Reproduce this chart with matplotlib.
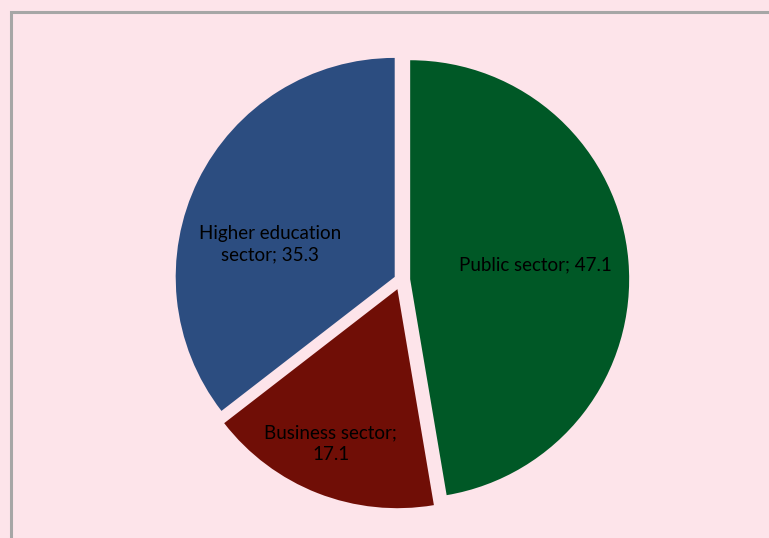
import matplotlib.pyplot as plt
from matplotlib.patches import Rectangle
import numpy as np

# data
sectors = ['Public sector', 'Business sector', 'Higher education\nsector']
shares = [47.1, 17.1, 35.3]
colors = ['#005826', '#700e06', '#2c4d80']
explode = [0.042, 0.045, 0.032]

W, H = 769, 538
fig = plt.figure(figsize=(W / 100, H / 100), dpi=100)
fig.patch.set_facecolor('#fde4ea')

# grey frame, cut by right/bottom edges
fig.patches.append(Rectangle((10.5 / W, -0.1), 1.2, 1 - 11.5 / H + 0.1,
                             transform=fig.transFigure, fill=False,
                             edgecolor='#a6a6a6', linewidth=2.2))

ax = fig.add_axes([0, 0, 1, 1])
ax.set_facecolor('none')
cx, cy, r = 401, H - 280, 219
# pie's explode is in data units, so scale by the radius
wedges, _ = ax.pie(shares, colors=colors, explode=[e * r for e in explode],
                   startangle=90, counterclock=False, center=(cx, cy),
                   radius=r, wedgeprops=dict(linewidth=0))
ax.set_xlim(0, W)
ax.set_ylim(0, H)
ax.set_aspect('equal')
ax.axis('off')

# label placement (fraction of radius, angle offset in degrees)
lab_dist = [0.574, 0.769, 0.587]
lab_shift = [1.6, -1.9, 10.7]
for w, name, val, d, s, e in zip(wedges, sectors, shares, lab_dist, lab_shift, explode):
    ang = np.deg2rad((w.theta1 + w.theta2) / 2 + s)
    x = cx + r * (d + e) * np.cos(ang)
    y = cy + r * (d + e) * np.sin(ang)
    sep = ';\n' if name == 'Business sector' else '; '
    ax.text(x, y, name + sep + str(val), ha='center', va='center',
            fontsize=13.5, family='Lato', color='black', linespacing=1.3)

fig.savefig('out.png', dpi=100, facecolor=fig.get_facecolor())
